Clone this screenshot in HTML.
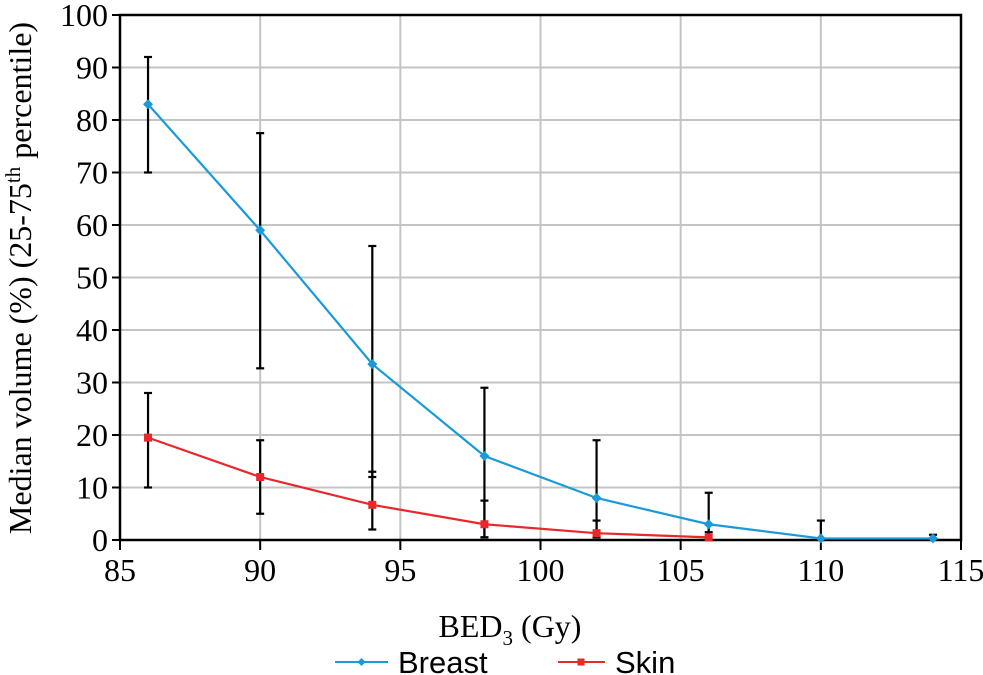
<!DOCTYPE html>
<html><head><meta charset="utf-8"><style>
html,body{margin:0;padding:0;background:#fff;}
svg{display:block;font-family:"Liberation Serif",serif;}
svg text{font-family:"Liberation Serif",serif;}
svg text.sans{font-family:"Liberation Sans",sans-serif;}
</style></head><body>
<svg id="chart" width="983" height="675" viewBox="0 0 983 675" xmlns="http://www.w3.org/2000/svg">
<g id="grid"></g>
<g id="axes"></g>
<g id="series"></g>
<text x="510" y="637" font-size="32" text-anchor="middle">BED<tspan font-size="21" dy="8">3</tspan><tspan dy="-8"> (Gy)</tspan></text>
<text transform="translate(31,278) rotate(-90)" font-size="32" text-anchor="middle">Median volume (%) (25-75<tspan font-size="21" dy="-11">th</tspan><tspan dy="11"> percentile)</tspan></text>
<g>
<g>
<line x1="335" y1="662" x2="388" y2="662" stroke="#1a9ad9" stroke-width="2"/>
<path d="M361.5 658 L365.5 662 L361.5 666 L357.5 662Z" fill="#1a9ad9"/>
<text class="sans" x="398" y="673" font-size="31">Breast</text></g>
<g>
<line x1="558" y1="662" x2="605" y2="662" stroke="#e8282b" stroke-width="2"/>
<rect x="577.5" y="658.5" width="7" height="7" fill="#e8282b"/>
<text class="sans" x="615" y="673" font-size="31">Skin</text></g>
</g>
</svg>
<script>
const xTicks=[85,90,95,100,105,110,115];
const yTicks=[0,10,20,30,40,50,60,70,80,90,100];
const doses=[86,90,94,98,102,106,110,114];
const breastMedian=[83,59,33.5,16,8,3,0.3,0.3];
const breastHigh=[92,77.5,56,29,19,9,3.7,1];
const breastLow=[70,32.7,12,0.5,0.5,0,0,0];
const skinDoses=[86,90,94,98,102,106];
const skinMedian=[19.5,12,6.7,3,1.3,0.5];
const skinHigh=[28,19,13,7.5,3.7,1.5];
const skinLow=[10,5,2,0.5,0.5,0];

const X0=120,X1=961,Y0=540,Y1=15;
const xs=v=>X0+(v-85)/30*(X1-X0);
const ys=v=>Y0-(v/100)*(Y0-Y1);
const NS='http://www.w3.org/2000/svg';
function mk(tag,attrs,parent){const e=document.createElementNS(NS,tag);for(const k in attrs)e.setAttribute(k,attrs[k]);parent.appendChild(e);return e;}
const grid=document.getElementById('grid'),axes=document.getElementById('axes'),series=document.getElementById('series');
yTicks.forEach(t=>{
 const l=mk('line',{x1:X0,x2:X1,y1:ys(t),y2:ys(t),stroke:'#c4c4c4','stroke-width':2},grid);
 
 
 mk('line',{x1:X0-8,x2:X0,y1:ys(t),y2:ys(t),stroke:'#000','stroke-width':2},axes);
 const tx=mk('text',{x:X0-12,y:ys(t)+11,'font-size':32,'text-anchor':'end'},axes);
 tx.textContent=t;
 
 
});
xTicks.forEach(t=>{
 const l=mk('line',{x1:xs(t),x2:xs(t),y1:Y1,y2:Y0,stroke:'#c4c4c4','stroke-width':2},grid);
 
 
 mk('line',{x1:xs(t),x2:xs(t),y1:Y0,y2:Y0+10,stroke:'#000','stroke-width':2},axes);
 const tx=mk('text',{x:xs(t),y:Y0+41,'font-size':32,'text-anchor':'middle'},axes);
 tx.textContent=t;
 
 
});
mk('rect',{x:X0,y:Y1,width:X1-X0,height:Y0-Y1,fill:'none',stroke:'#000','stroke-width':2.5},axes);
function errs(xv,hi,lo,name){
 xv.forEach((d,i)=>{
  const g=mk('g',{stroke:'#000','stroke-width':2.2},series);
  
  
  mk('line',{x1:xs(d),x2:xs(d),y1:ys(hi[i]),y2:ys(lo[i])},g);
  mk('line',{x1:xs(d)-4,x2:xs(d)+4,y1:ys(hi[i]),y2:ys(hi[i])},g);
  mk('line',{x1:xs(d)-4,x2:xs(d)+4,y1:ys(lo[i]),y2:ys(lo[i])},g);
 });
}
errs(doses,breastHigh,breastLow,'breast-error-bar');
errs(skinDoses,skinHigh,skinLow,'skin-error-bar');
const bl=mk('polyline',{points:doses.map((d,i)=>xs(d)+','+ys(breastMedian[i])).join(' '),fill:'none',stroke:'#1a9ad9','stroke-width':2.2},series);


const sl=mk('polyline',{points:skinDoses.map((d,i)=>xs(d)+','+ys(skinMedian[i])).join(' '),fill:'none',stroke:'#e8282b','stroke-width':2.2},series);


doses.forEach((d,i)=>{
 const x=xs(d),y=ys(breastMedian[i]);
 const p=mk('path',{d:`M${x} ${y-5}L${x+5} ${y}L${x} ${y+5}L${x-5} ${y}Z`,fill:'#1a9ad9'},series);
 
 
});
skinDoses.forEach((d,i)=>{
 const r=mk('rect',{x:xs(d)-4,y:ys(skinMedian[i])-4,width:8,height:8,fill:'#e8282b'},series);
 
 
});
</script>
</body></html>
